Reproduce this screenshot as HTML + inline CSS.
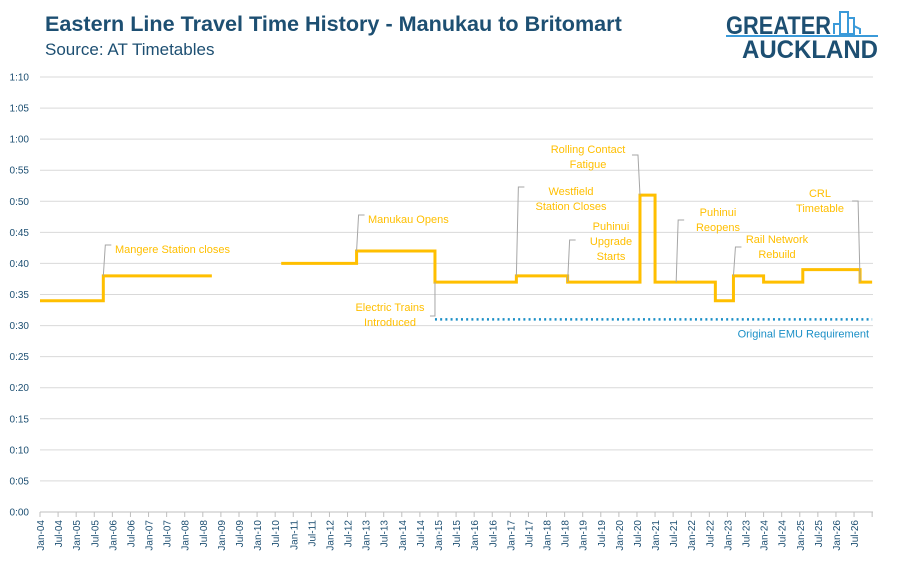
<!DOCTYPE html>
<html><head><meta charset="utf-8">
<style>
body{margin:0;background:#fff;font-family:"Liberation Sans",sans-serif;}
#wrap{position:relative;width:897px;height:562px;overflow:hidden;}
.t{position:absolute;left:45px;top:11px;font-size:21.6px;font-weight:bold;color:#1d4f72;}
.s{position:absolute;left:45px;top:40px;font-size:17px;color:#1d4f72;}
</style></head>
<body><div id="wrap">
<div class="t">Eastern Line Travel Time History - Manukau to Britomart</div>
<div class="s">Source: AT Timetables</div>
<svg style="position:absolute;left:720px;top:8px" width="170" height="55">
 <text x="6" y="26" font-size="25" font-weight="bold" fill="#1d4f72" textLength="105" lengthAdjust="spacingAndGlyphs">GREATER</text>
 <g fill="none" stroke="#3b9ad9" stroke-width="2"><rect x="120" y="4" width="8" height="22"/><rect x="128" y="10" width="6" height="16"/><path d="M114 26V16h6M134 26V18l6 3v5"/></g>
 <rect x="6" y="27" width="152" height="2" fill="#3b9ad9"/>
 <text x="22" y="50" font-size="25" font-weight="bold" fill="#1d4f72" textLength="136" lengthAdjust="spacingAndGlyphs">AUCKLAND</text>
</svg>
<svg id="c" width="897" height="562" style="position:absolute;left:0;top:0"></svg>
</div>
<script>
const segStarts=[0,21,57,80,105,131,158,175,199,204,224,230,240,253,272];
const segValues=[34,38,null,40,42,37,38,37,51,37,34,38,37,39,37];
const segEnd=276;
const emuStart=131, emuValue=31;
const yTicks=["0:00","0:05","0:10","0:15","0:20","0:25","0:30","0:35","0:40","0:45","0:50","0:55","1:00","1:05","1:10"];
const xLabels=[];
for(let y=4;y<=26;y++){const yy=String(y).padStart(2,'0');xLabels.push("Jan-"+yy);xLabels.push("Jul-"+yy);}
const annMonths=[21,105,131,158,175,199,211,230,272];
const annValues=[38,42,37,38,37,51,37,38,37];
const annText=[["Mangere Station closes"],["Manukau Opens"],["Electric Trains","Introduced"],["Westfield","Station Closes"],["Puhinui","Upgrade","Starts"],["Rolling Contact","Fatigue"],["Puhinui","Reopens"],["Rail Network","Rebuild"],["CRL","Timetable"]];
const annLabelPos=[[115,249],[368,219],[390,307],[571,191],[611,226],[588,149],[718,212],[777,239],[820,193]];
const annTopY=[245,215,316,187,240,155,220,247,201];
const X=m=>40+m*18.09/6, Y=v=>512-v*435/70;
const svg=document.getElementById('c'),NS="http://www.w3.org/2000/svg";
function mk(t,a,p){const e=document.createElementNS(NS,t);for(const k in a)e.setAttribute(k,a[k]);(p||svg).appendChild(e);return e;}
yTicks.forEach((l,i)=>{const y=Y(i*5);
 const g=mk('line',{x1:40,x2:873,y1:y,y2:y,stroke:i?'#d9d9d9':'#bfbfbf','stroke-width':1});
 
 const t=mk('text',{x:29,y:y+3.5,'text-anchor':'end','font-size':10,fill:'#1d4f72'});t.textContent=l;
 });
xLabels.forEach((l,i)=>{const x=X(i*6);
 mk('line',{x1:x,x2:x,y1:512,y2:517,stroke:'#bfbfbf'});
 const t=mk('text',{transform:`translate(${x+4},520) rotate(-90)`,'text-anchor':'end','font-size':10,fill:'#1d4f72'});t.textContent=l;
 });
mk('line',{x1:X(46*6),x2:X(46*6),y1:512,y2:517,stroke:'#bfbfbf'});
const emu=mk('line',{x1:X(emuStart),x2:X(segEnd),y1:Y(emuValue),y2:Y(emuValue),stroke:'#1a8fc6','stroke-width':2.5,'stroke-dasharray':'2 3.2'});

const et=mk('text',{x:869,y:Y(emuValue)+18,'text-anchor':'end','font-size':11,fill:'#1a8fc6'});et.textContent="Original EMU Requirement";

let d="",prev=null;
segStarts.forEach((s,i)=>{const v=segValues[i];const e=i+1<segStarts.length?segStarts[i+1]:segEnd;
 if(v==null){prev=null;return;}
 if(prev==null)d+=`M${X(s)},${Y(v)}`;else d+=`L${X(s)},${Y(v)}`;
 d+=`L${X(e)},${Y(v)}`;prev=v;});
const p=mk('path',{d:d,fill:'none',stroke:'#ffbf00','stroke-width':3});

annMonths.forEach((m,i)=>{const x=X(m),y=Y(annValues[i]);const [lx,ly]=annLabelPos[i];
 const g=mk('g',{});
 const lines=annText[i];const ty=annTopY[i];
 let path;
 if(i==2){path=`M${x},${y}L${x},${ty}L${x-5},${ty}`;}
 else if(i==5||i==8){path=`M${x},${y}L${x-2},${ty}L${x-8},${ty}`;}
 else {path=`M${x},${y}L${x+2},${ty}L${x+8},${ty}`;}
 mk('path',{d:path,fill:'none',stroke:'#a6a6a6','stroke-width':1},g);
 lines.forEach((tx,j)=>{const t=mk('text',{x:lx,y:ly+j*15+4,'font-size':11,fill:'#ffbf00','text-anchor':lines.length>1?'middle':'start'},g);t.textContent=tx;});
});
</script>
</body></html>
